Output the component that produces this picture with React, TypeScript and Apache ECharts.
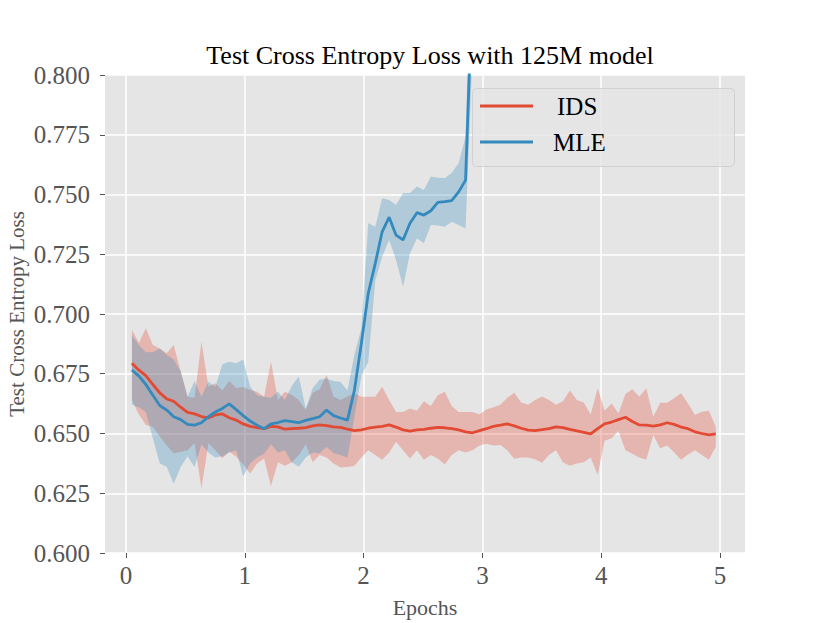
import React, { useEffect, useRef } from 'react';
import * as echarts from 'echarts';

const EPOCHS = [
  0.05, 0.109, 0.167, 0.226, 0.284, 0.343, 0.401, 0.46, 0.518, 0.577,
  0.635, 0.694, 0.752, 0.811, 0.869, 0.928, 0.986, 1.045, 1.103, 1.162,
  1.22, 1.279, 1.337, 1.396, 1.454, 1.513, 1.571, 1.63, 1.688, 1.747,
  1.805, 1.864, 1.922, 1.981, 2.039, 2.098, 2.156, 2.215, 2.273, 2.332,
  2.39, 2.449, 2.507, 2.566, 2.624, 2.683, 2.741, 2.8, 2.858, 2.917,
  2.975, 3.034, 3.092, 3.151, 3.209, 3.268, 3.326, 3.385, 3.443, 3.502,
  3.56, 3.619, 3.677, 3.736, 3.794, 3.853, 3.911, 3.97, 4.028, 4.087,
  4.145, 4.204, 4.262, 4.321, 4.379, 4.438, 4.496, 4.555, 4.613, 4.672,
  4.73, 4.789, 4.847, 4.906, 4.964,
];

const IDS_MEAN = [
  0.6794, 0.6765, 0.6742, 0.6705, 0.667, 0.6645, 0.6635, 0.661, 0.6588, 0.6582,
  0.6571, 0.6565, 0.6578, 0.6582, 0.6566, 0.6556, 0.654, 0.653, 0.6525, 0.652,
  0.653, 0.6528, 0.6518, 0.652, 0.6522, 0.6525, 0.6532, 0.6536, 0.6533, 0.6528,
  0.6526, 0.6518, 0.6512, 0.6515, 0.6522, 0.6527, 0.653, 0.6536, 0.6527, 0.6515,
  0.651, 0.6515, 0.6517, 0.6522, 0.6526, 0.6524, 0.652, 0.6515, 0.6507, 0.6503,
  0.6512, 0.652, 0.653, 0.6535, 0.654, 0.6532, 0.6522, 0.6514, 0.6512, 0.6516,
  0.652, 0.6528, 0.6525, 0.6517, 0.6511, 0.6505, 0.6498, 0.652, 0.654, 0.6548,
  0.6558, 0.6568, 0.655, 0.6536, 0.6535, 0.6531, 0.6536, 0.6545, 0.6538, 0.6527,
  0.652, 0.6507, 0.65, 0.6494, 0.6498,
];

const IDS_LOW = [
  0.664, 0.658, 0.6536, 0.6528, 0.6487, 0.645, 0.6417, 0.6424, 0.643, 0.6459,
  0.627, 0.6459, 0.643, 0.6396, 0.6424, 0.6403, 0.637, 0.6333, 0.6375, 0.6395,
  0.628, 0.638, 0.6365, 0.638, 0.641, 0.6455, 0.638, 0.641, 0.64, 0.6375,
  0.6358, 0.636, 0.6365, 0.64, 0.643, 0.641, 0.639, 0.642, 0.6465, 0.643,
  0.6395, 0.643, 0.639, 0.641, 0.6395, 0.637, 0.641, 0.643, 0.642, 0.643,
  0.645, 0.6457, 0.645, 0.6452, 0.643, 0.6394, 0.64, 0.64, 0.6392, 0.6378,
  0.641, 0.643, 0.638, 0.6365, 0.6375, 0.638, 0.64, 0.6326, 0.647, 0.648,
  0.651, 0.643, 0.6415, 0.64, 0.639, 0.6494, 0.6438, 0.645, 0.6422, 0.639,
  0.6412, 0.643, 0.641, 0.639, 0.6445,
];

const IDS_HIGH = [
  0.6933, 0.688, 0.694, 0.687, 0.6856, 0.6836, 0.687, 0.676, 0.6654, 0.665,
  0.6884, 0.6696, 0.671, 0.668, 0.672, 0.669, 0.6695, 0.6682, 0.6675, 0.6654,
  0.68, 0.664, 0.6675, 0.6661, 0.664, 0.6598, 0.667, 0.6685, 0.6745, 0.6654,
  0.664, 0.6655, 0.6668, 0.6654, 0.6654, 0.6654, 0.6696, 0.664, 0.659, 0.659,
  0.6605, 0.6595, 0.6635, 0.6615, 0.666, 0.6675, 0.6615, 0.659, 0.659, 0.659,
  0.658, 0.66, 0.661, 0.662, 0.665, 0.667, 0.663, 0.662, 0.664, 0.6655,
  0.664, 0.662, 0.6635, 0.668, 0.664, 0.663, 0.658, 0.6689, 0.6595, 0.6626,
  0.6585, 0.6665, 0.6685, 0.6654, 0.6689, 0.657, 0.6629, 0.6629, 0.6647, 0.6668,
  0.6626, 0.6577, 0.6591, 0.6595, 0.6528,
];

const MLE_MEAN = [
  0.6766, 0.674, 0.6705, 0.666, 0.6617, 0.6598, 0.657, 0.6558, 0.6538, 0.6535,
  0.6545, 0.657, 0.659, 0.6605, 0.6624, 0.66, 0.6575, 0.6552, 0.6535, 0.652,
  0.654, 0.6546, 0.6554, 0.655, 0.6545, 0.6555, 0.6562, 0.657, 0.6598, 0.6575,
  0.6565, 0.6556, 0.668, 0.6877, 0.7087, 0.7212, 0.7344, 0.7405, 0.733, 0.731,
  0.738, 0.7424, 0.7414, 0.7432, 0.7467, 0.747, 0.7474, 0.7511, 0.756, 0.84,
];

const MLE_LOW = [
  0.662, 0.661, 0.659, 0.648, 0.6375, 0.6361, 0.629, 0.636, 0.6405, 0.636,
  0.6455, 0.642, 0.64, 0.6405, 0.642, 0.643, 0.632, 0.6375, 0.64, 0.6415,
  0.6455, 0.642, 0.643, 0.638, 0.6361, 0.64, 0.642, 0.6417, 0.6445, 0.6417,
  0.641, 0.64, 0.657, 0.674, 0.68, 0.714, 0.724, 0.731, 0.7226, 0.7114,
  0.7254, 0.7317, 0.7296, 0.7372, 0.737, 0.7365, 0.7386, 0.7372, 0.7358, 0.81,
];

const MLE_HIGH = [
  0.691, 0.687, 0.684, 0.684, 0.6856, 0.6828, 0.681, 0.676, 0.6654, 0.672,
  0.6654, 0.6717, 0.6696, 0.679, 0.68, 0.6794, 0.681, 0.6696, 0.666, 0.6654,
  0.665, 0.6675, 0.664, 0.67, 0.6738, 0.6605, 0.669, 0.6725, 0.673, 0.672,
  0.6717, 0.668, 0.683, 0.694, 0.738, 0.7365, 0.7484, 0.7477, 0.7456, 0.7506,
  0.7506, 0.7533, 0.7519, 0.7575, 0.757, 0.7569, 0.759, 0.7632, 0.7743, 0.87,
];

const X_TICKS = [0, 1, 2, 3, 4, 5];

const RED = '#E24A33';
const BLUE = '#348ABD';
const FONT = "'Liberation Serif', 'Times New Roman', serif";

function bandSeries(name: string, low: number[], high: number[], color: string) {
  return {
    type: 'custom',
    name,
    silent: true,
    clip: true,
    z: 1,
    data: low.map((lo, i) => [EPOCHS[i], lo, high[i]]),
    encode: { x: 0, y: [1, 2] },
    renderItem: (params: any, api: any) => {
      if (params.dataIndex !== 0) return null;
      const upper = high.map((h, i) => api.coord([EPOCHS[i], h]));
      const lower = low.map((l, i) => api.coord([EPOCHS[i], l])).reverse();
      return {
        type: 'polygon',
        shape: { points: upper.concat(lower) },
        style: { fill: color, opacity: 0.3 },
      };
    },
  };
}

export default function App() {
  const ref = useRef<HTMLDivElement>(null);
  useEffect(() => {
    document.body.style.margin = '0';
    const chart = echarts.init(ref.current!, null, { renderer: 'svg' });
    const pts = (ys: number[]) => ys.map((y, i) => [EPOCHS[i], y]);
    const option = {
      animation: false,
      backgroundColor: '#ffffff',
      title: {
        text: 'Test Cross Entropy Loss with 125M model',
        left: 425,
        textAlign: 'center',
        top: 37,
        textStyle: { fontFamily: FONT, fontSize: 26, fontWeight: 'normal', color: '#000000' },
      },
      grid: {
        left: 105,
        top: 75,
        width: 640,
        height: 478,
        show: true,
        containLabel: false,
        outerBoundsMode: 'none',
        backgroundColor: '#E5E5E5',
        borderWidth: 0,
      },
      xAxis: {
        type: 'value',
        min: -0.1768,
        max: 5.21,
        name: 'Epochs',
        nameLocation: 'middle',
        nameGap: 43,
        nameMoveOverlap: false,
        nameTextStyle: { fontFamily: FONT, fontSize: 22, color: '#555555' },
        axisLine: { show: false, onZero: false },
        axisTick: { show: true, length: 5, customValues: X_TICKS, lineStyle: { color: '#555555', width: 1 } },
        axisLabel: { customValues: X_TICKS, margin: 10, fontFamily: FONT, fontSize: 25, color: '#555555' },
        splitLine: { show: true, lineStyle: { color: '#ffffff', width: 1.5 } },
      },
      yAxis: {
        type: 'value',
        min: 0.6,
        max: 0.8,
        interval: 0.025,
        name: 'Test Cross Entropy Loss',
        nameLocation: 'middle',
        nameGap: 78,
        nameMoveOverlap: false,
        nameTextStyle: { fontFamily: FONT, fontSize: 21, color: '#555555' },
        axisLine: { show: false, onZero: false },
        axisTick: { show: true, length: 5, lineStyle: { color: '#555555', width: 1 } },
        axisLabel: {
          margin: 15,
          fontFamily: FONT,
          fontSize: 25,
          color: '#555555',
          formatter: (v: number) => v.toFixed(3),
        },
        splitLine: { show: true, lineStyle: { color: '#ffffff', width: 1.5 } },
      },
      legend: {
        orient: 'vertical',
        left: 480,
        top: 93.5,
        padding: 0,
        itemWidth: 53,
        itemHeight: 3,
        itemGap: 11,
        z: 20,
        icon: 'rect',
        textStyle: { fontFamily: FONT, fontSize: 25, color: '#000000' },
        data: [
          { name: 'IDS', textStyle: { padding: [0, 0, 0, 19] } },
          { name: 'MLE', textStyle: { padding: [0, 0, 0, 15] } },
        ],
      },
      graphic: [
        {
          type: 'rect',
          left: 472,
          top: 88,
          z: 10,
          silent: true,
          shape: { width: 262, height: 78, r: 4 },
          style: { fill: 'rgba(229,229,229,0.8)', stroke: 'rgba(204,204,204,0.8)', lineWidth: 1 },
        },
      ],
      series: [
        bandSeries('IDS band', IDS_LOW, IDS_HIGH, RED),
        bandSeries('MLE band', MLE_LOW, MLE_HIGH, BLUE),
        {
          type: 'line',
          name: 'IDS',
          data: pts(IDS_MEAN),
          showSymbol: false,
          symbol: 'none',
          clip: true,
          z: 3,
          itemStyle: { color: RED },
          lineStyle: { color: RED, width: 2.8 },
        },
        {
          type: 'line',
          name: 'MLE',
          data: pts(MLE_MEAN),
          showSymbol: false,
          symbol: 'none',
          clip: true,
          z: 3,
          itemStyle: { color: BLUE },
          lineStyle: { color: BLUE, width: 2.8 },
        },
      ],
    };
    chart.setOption(option as any);
    return () => chart.dispose();
  }, []);
  return <div ref={ref} style={{ width: 830, height: 623 }} />;
}
